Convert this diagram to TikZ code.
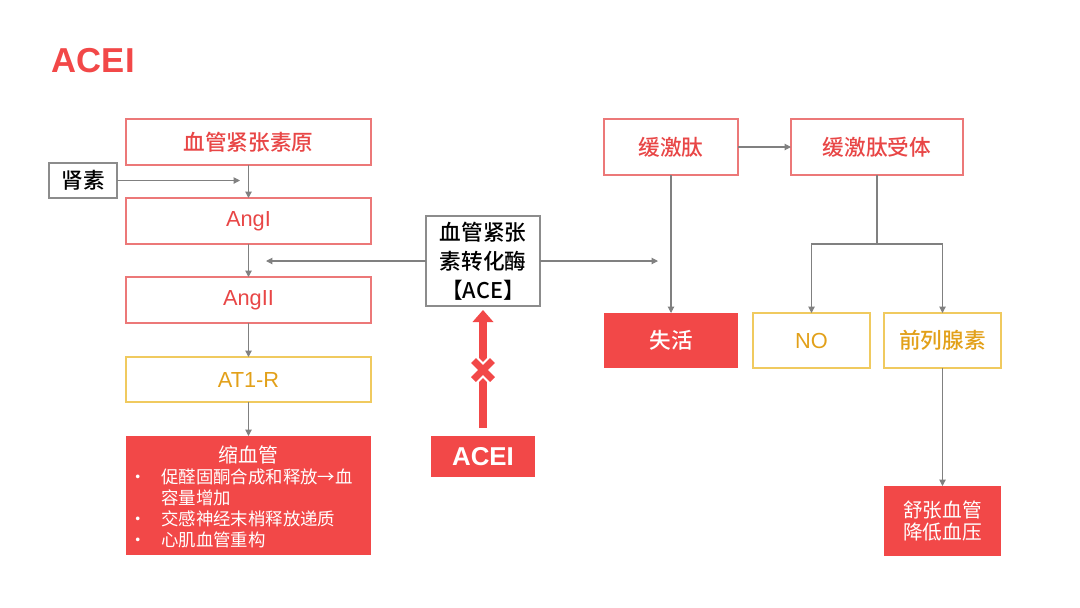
\documentclass[tikz,border=0pt]{standalone}
\usepackage{fontspec}
\setmainfont{Noto Sans CJK SC}
\newfontfamily\midfont{Noto Sans CJK SC Medium}
\newfontfamily\latinfont{Liberation Sans}
\usetikzlibrary{positioning, arrows.meta}
\definecolor{acered}{RGB}{242,72,72}
\definecolor{edgered}{RGB}{236,120,120}
\definecolor{textred}{RGB}{232,70,70}
\definecolor{edgegold}{RGB}{240,202,95}
\definecolor{textgold}{RGB}{226,160,25}
\definecolor{linkgrey}{RGB}{128,128,128}

\begin{document}
\begin{tikzpicture}[
    every node/.style={font=\fontsize{12.3}{16.4}\selectfont, inner sep=0pt, outer sep=0pt},
    bold/.style={font=\midfont\fontsize{12.3}{16.4}\selectfont},
    latin/.style={font=\latinfont\fontsize{12.4}{15}\selectfont},
    redline/.style={rectangle, draw=edgered, line width=0.6pt, text=textred,
                    minimum width=4.9cm, minimum height=0.92cm},
    goldline/.style={rectangle, draw=edgegold, line width=0.6pt, text=textgold,
                     minimum width=2.34cm, minimum height=1.1cm},
    greybox/.style={rectangle, draw=black!45, line width=0.6pt, align=center, bold},
    redfill/.style={rectangle, fill=acered, text=white, align=center},
    link/.style={draw=linkgrey, line width=0.6pt, -{Triangle[length=3.6pt, width=3.6pt]}},
  ]
    \useasboundingbox (0,0) rectangle (21.6,-12.14);
    % title
    \node[anchor=base west, text=acered, font=\latinfont\fontsize{19.7}{24}\selectfont\bfseries]
      (title) at (1.04,-1.44) {ACEI};
    % renin-angiotensin chain
    \node[redline, bold] (ago) at (4.97,-2.84) {血管紧张素原};
    \node[greybox, minimum width=1.36cm, minimum height=0.7cm] (renin) at (1.66,-3.61) {肾素};
    \node[redline, latin] (ang1) at (4.97,-4.42) {AngI};
    \node[redline, latin] (ang2) at (4.97,-6.00) {AngII};
    \node[goldline, latin, minimum width=4.9cm, minimum height=0.9cm] (at1r) at (4.97,-7.59) {AT1-R};
    \node[redfill, minimum width=4.9cm, minimum height=2.38cm] (vaso) at (4.97,-9.91) {%
      \fontsize{9.9}{12}\selectfont
      \begin{tabular}{@{}p{0.34cm}@{}l@{}}
        \multicolumn{2}{c}{\rule{0pt}{14pt}\fontsize{11.3}{12}\selectfont 缩血管}\\
        \hspace{-0.3cm}• & 促醛固酮合成和释放→血\\
          & 容量增加\\
        \hspace{-0.3cm}• & 交感神经末梢释放递质\\
        \hspace{-0.3cm}• & 心肌血管重构
      \end{tabular}};
    % enzyme and its inhibitor
    \node[greybox, minimum width=2.28cm, minimum height=1.8cm] (ace) at (9.66,-5.22)
      {血管紧张\\素转化酶\\【ACE】};
    \node[redfill, minimum width=2.08cm, minimum height=0.82cm,
          font=\latinfont\fontsize{14.7}{17}\selectfont\bfseries] (acei) at (9.66,-9.13) {ACEI};
    % kinin branch
    \node[redline, bold, minimum width=2.68cm, minimum height=1.12cm] (kin) at (13.42,-2.94) {缓激肽};
    \node[redline, bold, minimum width=3.44cm, minimum height=1.12cm] (kinr) at (17.54,-2.94) {缓激肽受体};
    \node[redfill, bold, minimum width=2.68cm, minimum height=1.1cm] (off) at (13.42,-6.81) {失活};
    \node[goldline, latin] (no) at (16.23,-6.81) {NO};
    \node[goldline, bold] (pg) at (18.85,-6.81) {前列腺素};
    \node[redfill, minimum width=2.34cm, minimum height=1.4cm, font=\fontsize{11.2}{13}\selectfont]
      (relax) at (18.85,-10.42) {舒张血管\\降低血压};
    % connectors
    \coordinate (reninend) at (4.8,-3.61);
    \coordinate (aceleft) at (5.32,-5.22);
    \coordinate (aceright) at (13.16,-5.22);
    \coordinate (split) at (17.54,-4.88);
    \draw[link] (ago) -- (ang1);
    \draw[link] (renin) -- (reninend);
    \draw[link] (ang1) -- (ang2);
    \draw[link] (ang2) -- (at1r);
    \draw[link] (at1r) -- (vaso);
    \draw[link] (ace) -- (aceleft);
    \draw[link] (ace) -- (aceright);
    \draw[link] (kin) -- (kinr);
    \draw[link] (kin) -- (off);
    \draw[draw=linkgrey, line width=0.6pt] (kinr) -- (split);
    \draw[link] (split) -| (no);
    \draw[link] (split) -| (pg);
    \draw[link] (pg) -- (relax);
    % blocked arrow
    \draw[acered, line width=0.16cm, shorten <=0.16cm, shorten >=0.08cm,
          -{Triangle[width=0.42cm, length=0.24cm, line width=0pt]}] (acei) -- (ace);
    \coordinate (block) at (9.66,-7.4);
    \foreach \c/\w in {white/0.22cm, acered/0.14cm}
      \foreach \s in {1,-1}
        \draw[\c, line width=\w] ([shift={(-0.19,-0.19*\s)}]block) -- ([shift={(0.19,0.19*\s)}]block);
  \end{tikzpicture}
\end{document}
